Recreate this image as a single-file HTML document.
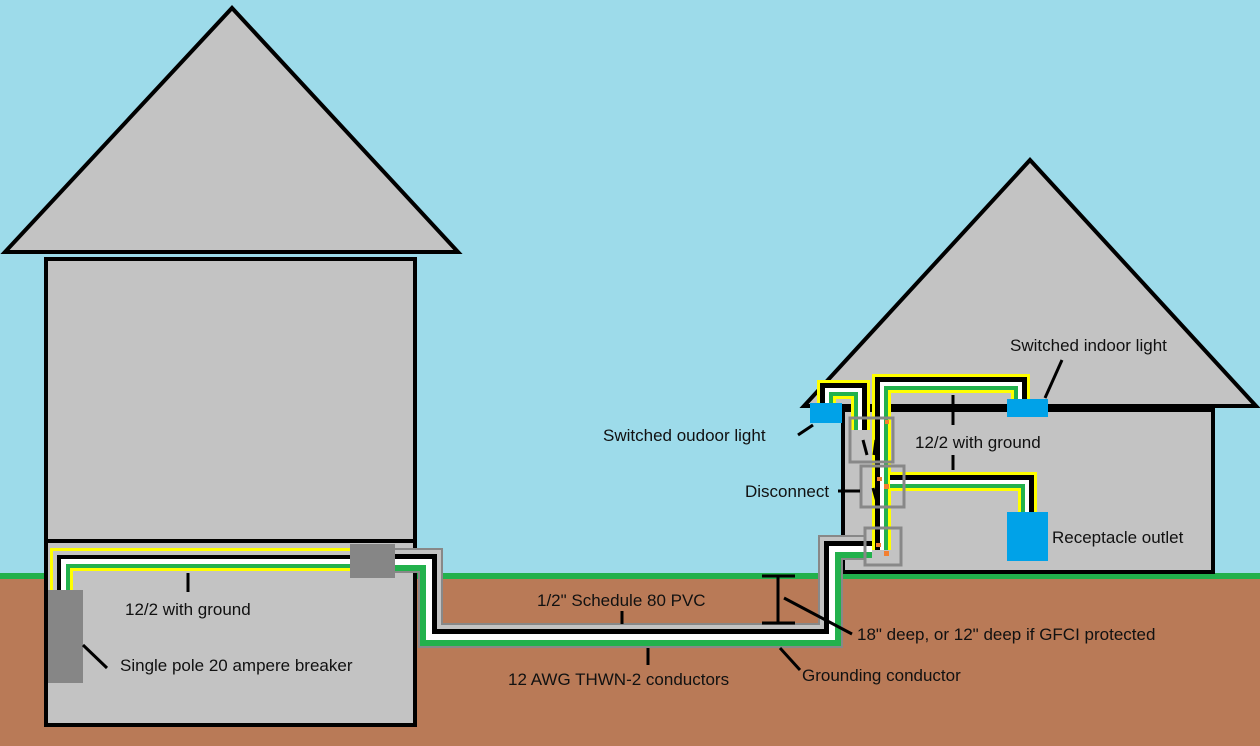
<!DOCTYPE html>
<html><head><style>body{margin:0}svg{display:block}text{font-family:"Liberation Sans",sans-serif;font-size:17px;fill:#111}</style></head><body>
<svg width="1260" height="746" viewBox="0 0 1260 746" xmlns="http://www.w3.org/2000/svg">
<rect width="1260" height="746" fill="#9ddbea"/>
<rect y="576" width="1260" height="170" fill="#b97a57"/>
<rect y="573" width="1260" height="6" fill="#22b14c"/>
<!-- big house -->
<polygon points="5,252 232,8 458,252" fill="#c3c3c3" stroke="#000" stroke-width="4"/>
<rect x="46" y="259" width="369" height="282" fill="#c3c3c3" stroke="#000" stroke-width="4"/>
<rect x="46" y="541" width="369" height="184" fill="#c3c3c3" stroke="#000" stroke-width="4"/>
<!-- small house -->
<polygon points="804,406 1030,160 1256,406" fill="#c3c3c3" stroke="#000" stroke-width="4"/>
<rect x="843" y="410" width="370" height="162" fill="#c3c3c3" stroke="#000" stroke-width="4"/>
<g fill="none" stroke-linejoin="miter" stroke-linecap="butt">
<!-- left cable -->
<path d="M51.5,590 V549.5 H350" stroke="#ff0" stroke-width="3"/>
<path d="M55,590 V553 H350" stroke="#c3c3c3" stroke-width="4"/>
<path d="M59,590 V557 H350" stroke="#000" stroke-width="4"/>
<path d="M63.5,590 V561.5 H350" stroke="#fff" stroke-width="5"/>
<path d="M68,590 V566 H350" stroke="#22b14c" stroke-width="4"/>
<path d="M71.5,590 V569.5 H350" stroke="#ff0" stroke-width="3"/>
<!-- conduit (d from inner edge) -->
<path d="M395,549 H442 V624 H819 V536 H866" stroke="#888" stroke-width="2"/>
<path d="M395,552 H439 V627 H822 V539 H866" stroke="#c3c3c3" stroke-width="4"/>
<path d="M395,556.5 H434.5 V631.5 H826.5 V543.5 H872" stroke="#000" stroke-width="5"/>
<path d="M395,562 H429 V637 H832 V549 H872" stroke="#fff" stroke-width="6"/>
<path d="M395,568 H423 V643 H838 V555 H872" stroke="#22b14c" stroke-width="6"/>
<path d="M395,572 H419 V647 H842 V559 H866" stroke="#888" stroke-width="2"/>
<!-- cable A: vertical to indoor light -->
<path d="M873.5,550 V375.5 H1028.5 V400" stroke="#ff0" stroke-width="3"/>
<path d="M877.5,550 V379.5 H1024.5 V400" stroke="#000" stroke-width="5"/>
<path d="M882,550 V384 H1020 V400" stroke="#fff" stroke-width="4"/>
<path d="M886,550 V388 H1016 V400" stroke="#22b14c" stroke-width="4"/>
<path d="M889.5,550 V391.5 H1012.5 V400" stroke="#ff0" stroke-width="3"/>
<!-- cable B: outdoor light -->
<path d="M868.5,430 V381.5 H818.5 V404" stroke="#ff0" stroke-width="3"/>
<path d="M864.5,430 V385.5 H822.5 V404" stroke="#000" stroke-width="5"/>
<path d="M860,430 V390 H827 V404" stroke="#fff" stroke-width="4"/>
<path d="M856,430 V394 H831 V404" stroke="#22b14c" stroke-width="4"/>
<path d="M852.5,430 V397.5 H834.5 V404" stroke="#ff0" stroke-width="3"/>
<!-- cable C: receptacle -->
<path d="M890,473.5 H1035.5 V512" stroke="#ff0" stroke-width="3"/>
<path d="M890,477.5 H1031.5 V512" stroke="#000" stroke-width="5"/>
<path d="M890,482 H1027 V512" stroke="#fff" stroke-width="4"/>
<path d="M890,486 H1023 V512" stroke="#22b14c" stroke-width="4"/>
<path d="M890,489.5 H1019.5 V512" stroke="#ff0" stroke-width="3"/>
</g>
<!-- boxes -->
<rect x="350" y="544" width="45" height="34" fill="#868686"/>
<rect x="48" y="590" width="35" height="93" fill="#868686"/>
<g fill="none" stroke="#888" stroke-width="3">
<rect x="850" y="418" width="43" height="44"/>
<rect x="861" y="466" width="43" height="41"/>
<rect x="865" y="528" width="36" height="37"/>
</g>
<g fill="#f47f30"><rect x="885" y="420" width="4" height="4"/><rect x="877" y="477" width="5" height="4"/><rect x="884" y="484" width="5" height="5"/><rect x="876" y="543" width="5" height="4"/><rect x="884" y="551" width="5" height="5"/></g>
<g stroke="#000" stroke-width="3"><line x1="863" y1="440" x2="867" y2="455"/><line x1="876" y1="440" x2="874" y2="455"/><line x1="873" y1="488" x2="877" y2="502"/></g>
<rect x="810" y="403" width="32" height="20" fill="#00a2e8"/>
<rect x="1007" y="399" width="41" height="18" fill="#00a2e8"/>
<rect x="1007" y="512" width="41" height="49" fill="#00a2e8"/>
<!-- leaders -->
<g stroke="#000" stroke-width="3" fill="none">
<line x1="1045" y1="398" x2="1062" y2="360"/>
<line x1="953" y1="395" x2="953" y2="425"/><line x1="953" y1="455" x2="953" y2="470"/>
<line x1="798" y1="435" x2="813" y2="425"/>
<line x1="838" y1="491" x2="860" y2="491"/>
<line x1="188" y1="573" x2="188" y2="592"/>
<line x1="83" y1="645" x2="107" y2="668"/>
<line x1="622" y1="611" x2="622" y2="624"/>
<line x1="778" y1="576" x2="778" y2="623"/><line x1="762" y1="576" x2="795" y2="576"/><line x1="762" y1="623" x2="795" y2="623"/>
<line x1="784" y1="598" x2="852" y2="634"/>
<line x1="648" y1="648" x2="648" y2="665"/>
<line x1="780" y1="648" x2="800" y2="670"/>
</g>
<text x="1010" y="351">Switched indoor light</text>
<text x="915" y="448">12/2 with ground</text>
<text x="603" y="441">Switched oudoor light</text>
<text x="745" y="497">Disconnect</text>
<text x="1052" y="543">Receptacle outlet</text>
<text x="125" y="615">12/2 with ground</text>
<text x="120" y="671">Single pole 20 ampere breaker</text>
<text x="537" y="606">1/2" Schedule 80 PVC</text>
<text x="857" y="640">18" deep, or 12" deep if GFCI protected</text>
<text x="508" y="685">12 AWG THWN-2 conductors</text>
<text x="802" y="681">Grounding conductor</text>
</svg>
</body></html>
